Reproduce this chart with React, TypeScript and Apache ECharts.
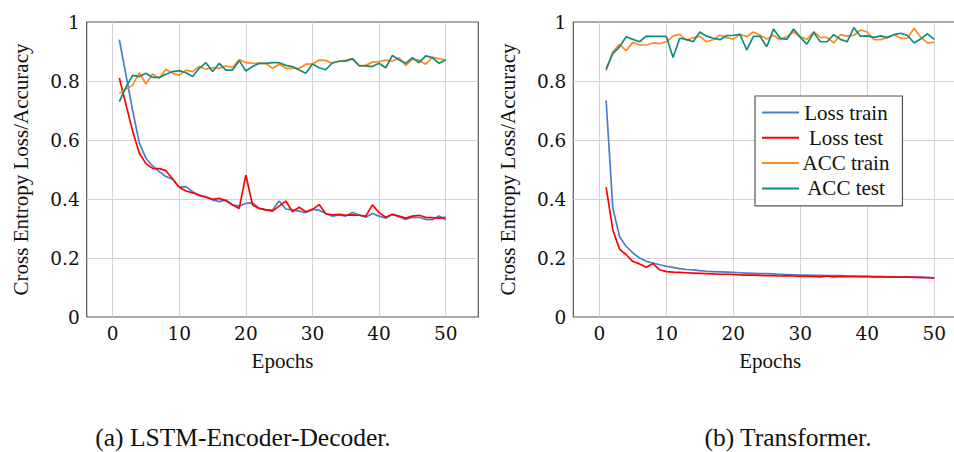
import React, { useEffect, useRef } from "react";
import * as echarts from "echarts";

const epochs = [
  1, 2, 3, 4, 5, 6, 7, 8, 9, 10, 11, 12, 13, 14, 15, 16, 17, 18, 19, 20, 21, 22, 23, 24, 25,
  26, 27, 28, 29, 30, 31, 32, 33, 34, 35, 36, 37, 38, 39, 40, 41, 42, 43, 44, 45, 46, 47, 48, 49, 50,
];
const seriesNames = ["Loss train", "Loss test", "ACC train", "ACC test"];
const yTicks = [0, 0.2, 0.4, 0.6, 0.8, 1];
const captions = ["(a) LSTM-Encoder-Decoder.", "(b) Transformer."];
const yAxisTitle = "Cross Entropy Loss/Accuracy";
const xAxisTitle = "Epochs";

const lstmLossTrain = [
  0.94, 0.82, 0.7, 0.59, 0.538, 0.512, 0.493, 0.476, 0.467, 0.44, 0.442, 0.425, 0.411, 0.408, 0.397,
  0.391, 0.397, 0.38, 0.376, 0.385, 0.387, 0.368, 0.363, 0.363, 0.393, 0.366, 0.363, 0.359, 0.354,
  0.365, 0.362, 0.351, 0.342, 0.346, 0.342, 0.354, 0.346, 0.338, 0.351, 0.342, 0.335, 0.348, 0.34,
  0.331, 0.338, 0.338, 0.331, 0.33, 0.342, 0.33,
];
const lstmLossTest = [
  0.81, 0.72, 0.63, 0.555, 0.52, 0.504, 0.503, 0.496, 0.468, 0.44, 0.427, 0.421, 0.413, 0.406, 0.399,
  0.402, 0.394, 0.38, 0.368, 0.481, 0.38, 0.368, 0.363, 0.359, 0.376, 0.393, 0.357, 0.372, 0.357,
  0.365, 0.381, 0.35, 0.346, 0.348, 0.345, 0.346, 0.345, 0.342, 0.38, 0.354, 0.338, 0.348, 0.342,
  0.335, 0.342, 0.345, 0.338, 0.337, 0.335, 0.338,
];
const lstmAccTrain = [
  0.758, 0.772, 0.786, 0.828, 0.79, 0.824, 0.809, 0.84, 0.826, 0.82, 0.837, 0.832, 0.849, 0.84, 0.845,
  0.843, 0.851, 0.846, 0.873, 0.862, 0.86, 0.86, 0.86, 0.843, 0.857, 0.843, 0.843, 0.843, 0.857, 0.858,
  0.871, 0.87, 0.86, 0.867, 0.871, 0.876, 0.852, 0.853, 0.864, 0.866, 0.871, 0.867, 0.879, 0.853,
  0.873, 0.871, 0.857, 0.88, 0.876, 0.871,
];
const lstmAccTest = [
  0.73, 0.779, 0.819, 0.815, 0.826, 0.812, 0.812, 0.823, 0.832, 0.835, 0.828, 0.815, 0.843, 0.862,
  0.832, 0.86, 0.837, 0.837, 0.869, 0.834, 0.849, 0.86, 0.86, 0.862, 0.862, 0.853, 0.849, 0.837, 0.826,
  0.858, 0.845, 0.838, 0.862, 0.867, 0.867, 0.875, 0.852, 0.851, 0.849, 0.86, 0.845, 0.887, 0.871,
  0.86, 0.879, 0.862, 0.885, 0.879, 0.86, 0.871,
];

const tfLossTrain = [
  0.734, 0.37, 0.273, 0.239, 0.217, 0.2, 0.189, 0.183, 0.177, 0.172, 0.168, 0.164, 0.161, 0.16, 0.157,
  0.155, 0.154, 0.153, 0.152, 0.151, 0.15, 0.149, 0.148, 0.147, 0.147, 0.146, 0.145, 0.144, 0.143,
  0.142, 0.142, 0.141, 0.141, 0.14, 0.14, 0.14, 0.139, 0.139, 0.138, 0.138, 0.137, 0.137, 0.136,
  0.136, 0.135, 0.135, 0.135, 0.134, 0.134, 0.133,
];
const tfLossTest = [
  0.44, 0.296, 0.23, 0.211, 0.188, 0.18, 0.169, 0.181, 0.16, 0.154, 0.152, 0.151, 0.15, 0.149, 0.148,
  0.147, 0.146, 0.145, 0.145, 0.144, 0.143, 0.142, 0.142, 0.141, 0.14, 0.14, 0.139, 0.14, 0.139, 0.138,
  0.138, 0.138, 0.136, 0.139, 0.136, 0.138, 0.137, 0.137, 0.137, 0.137, 0.136, 0.136, 0.136, 0.135,
  0.135, 0.135, 0.134, 0.134, 0.133, 0.132,
];
const tfAccTrain = [
  0.835, 0.899, 0.924, 0.903, 0.931, 0.922, 0.922, 0.929, 0.927, 0.933, 0.953, 0.958, 0.938, 0.947,
  0.951, 0.933, 0.94, 0.955, 0.947, 0.942, 0.958, 0.951, 0.966, 0.955, 0.942, 0.955, 0.94, 0.951,
  0.966, 0.951, 0.941, 0.968, 0.948, 0.948, 0.929, 0.957, 0.952, 0.955, 0.973, 0.966, 0.94, 0.94,
  0.948, 0.957, 0.945, 0.945, 0.979, 0.948, 0.929, 0.931,
];
const tfAccTest = [
  0.841, 0.893, 0.916, 0.95, 0.941, 0.933, 0.952, 0.951, 0.951, 0.951, 0.88, 0.945, 0.941, 0.933,
  0.966, 0.952, 0.945, 0.94, 0.954, 0.955, 0.958, 0.905, 0.951, 0.951, 0.916, 0.976, 0.945, 0.941,
  0.976, 0.948, 0.925, 0.964, 0.933, 0.933, 0.957, 0.941, 0.933, 0.981, 0.952, 0.953, 0.948, 0.953,
  0.947, 0.957, 0.962, 0.955, 0.929, 0.943, 0.96, 0.941,
];

const colors = ["#4a7dcc", "#ff0000", "#ff8c1a", "#138a80"];
const SERIF = "Liberation Serif";
const TICKFONT = "DejaVu Serif";

export default function App() {
  const ref = useRef<HTMLDivElement>(null);

  useEffect(() => {
    document.body.style.margin = "0";
    document.body.style.overflow = "hidden";
    if (!ref.current) return;
    const chart = echarts.init(ref.current, undefined, { renderer: "svg" });

    const gridBox = [
      { left: 86.7, top: 22, width: 391.6, height: 295 },
      { left: 573.3, top: 22, width: 393.7, height: 295 },
    ];

    const xAxes = gridBox.map((_, i) => ({
      type: "value",
      gridIndex: i,
      min: -3.9,
      max: 54.9,
      splitNumber: 5,
      name: xAxisTitle,
      nameLocation: "middle",
      nameGap: 33,
      nameTextStyle: { fontFamily: SERIF, fontSize: 21, color: "#111" },
      axisLine: { show: false },
      axisTick: { show: false },
      axisLabel: {
        showMinLabel: false,
        showMaxLabel: false,
        fontFamily: TICKFONT,
        fontSize: 18.5,
        color: "#111",
        margin: 7,
      },
      splitLine: {
        show: true,
        showMinLine: false,
        showMaxLine: false,
        lineStyle: { color: "#d3d3d3", width: 1 },
      },
    }));

    const yAxes = gridBox.map((_, i) => ({
      type: "value",
      gridIndex: i,
      min: yTicks[0],
      max: yTicks[yTicks.length - 1],
      interval: 0.2,
      name: yAxisTitle,
      nameLocation: "middle",
      nameGap: 55,
      nameTextStyle: { fontFamily: SERIF, fontSize: 21, color: "#111" },
      axisLine: { show: false },
      axisTick: { show: false },
      axisLabel: {
        fontFamily: TICKFONT,
        fontSize: 18.5,
        color: "#111",
        margin: 7,
        formatter: (v: number) => (v === 0 ? "0" : v === 1 ? "1" : String(Math.round(v * 10) / 10)),
      },
      splitLine: {
        show: true,
        showMinLine: false,
        showMaxLine: false,
        lineStyle: { color: "#d3d3d3", width: 1 },
      },
    }));

    const mk = (vals: number[]) => epochs.map((e, i) => [e, vals[i]]);
    const groups = [
      [lstmLossTrain, lstmLossTest, lstmAccTrain, lstmAccTest],
      [tfLossTrain, tfLossTest, tfAccTrain, tfAccTest],
    ];
    const series: any[] = [];
    groups.forEach((g, gi) => {
      g.forEach((vals, si) => {
        series.push({
          type: "line",
          name: seriesNames[si],
          xAxisIndex: gi,
          yAxisIndex: gi,
          data: mk(vals),
          showSymbol: false,
          symbol: "none",
          lineStyle: { color: colors[si], width: 1.7 },
          itemStyle: { color: colors[si] },
          z: 3,
        });
      });
    });

    chart.setOption({
      animation: false,
      backgroundColor: "#fff",
      grid: gridBox.map((b) => ({
        ...b,
        show: true,
        borderColor: "#555",
        borderWidth: 1.2,
        backgroundColor: "transparent",
        containLabel: false,
      })),
      xAxis: xAxes,
      yAxis: yAxes,
      legend: {
        data: seriesNames,
        orient: "vertical",
        left: 755,
        top: 96,
        padding: [6, 13, 7, 7],
        itemGap: 4.3,
        itemWidth: 37,
        itemHeight: 2,
        itemTextGap: 8,
        icon: "rect",
        borderColor: "#555",
        borderWidth: 1.2,
        backgroundColor: "#fff",
        formatter: (n: string) => `{c|${n}}`,
        textStyle: {
          fontFamily: SERIF,
          fontSize: 21,
          color: "#111",
          rich: {
            c: { width: 84, align: "center", fontFamily: SERIF, fontSize: 21, lineHeight: 22, color: "#111" },
          },
        },
        selectedMode: false,
      },
      graphic: [
        {
          type: "text",
          x: 243,
          y: 424,
          style: {
            text: captions[0],
            fontFamily: SERIF,
            fontSize: 25.5,
            fill: "#111",
            textAlign: "center",
            textVerticalAlign: "top",
          },
        },
        {
          type: "text",
          x: 788,
          y: 424,
          style: {
            text: captions[1],
            fontFamily: SERIF,
            fontSize: 25.5,
            fill: "#111",
            textAlign: "center",
            textVerticalAlign: "top",
          },
        },
      ],
      series,
    });

    return () => chart.dispose();
  }, []);

  return <div ref={ref} style={{ width: 980, height: 452 }} />;
}
